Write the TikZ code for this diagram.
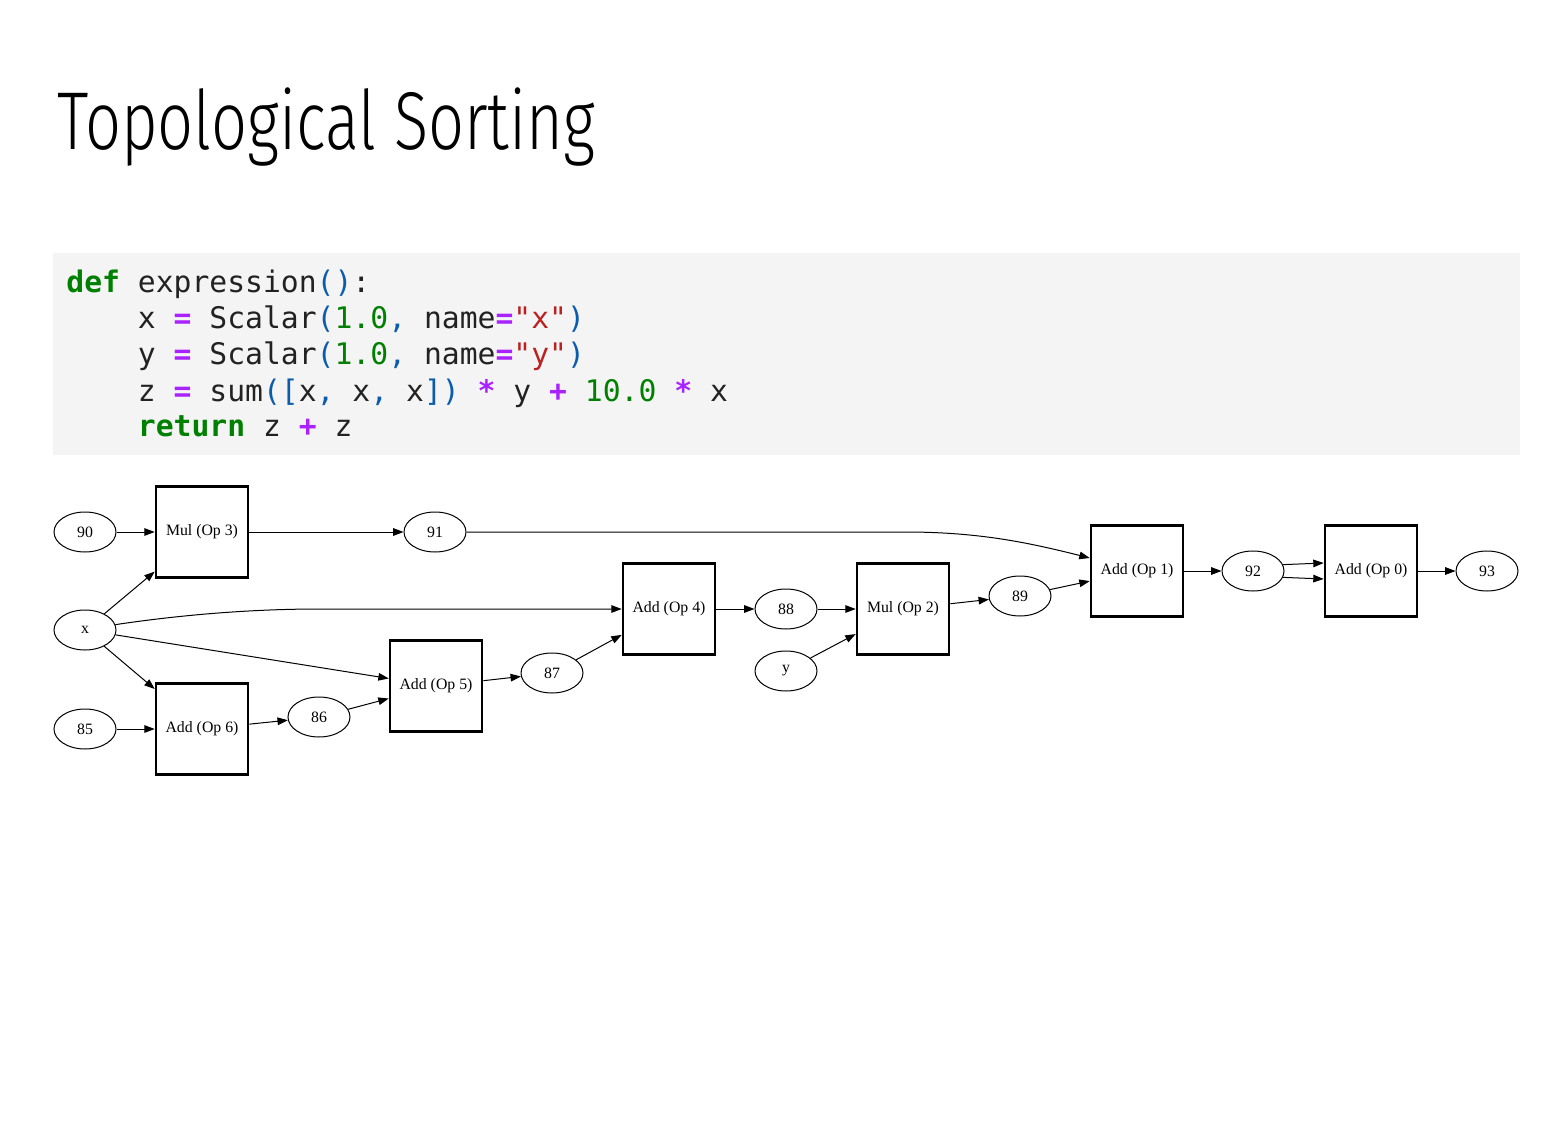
\documentclass[tikz,border=0pt]{standalone}
\usepackage{fontspec}
\usetikzlibrary{shapes.geometric,arrows.meta}
\newfontfamily\titlefont[FakeStretch=0.77]{Fira Sans Light}
\newfontfamily\codefont{DejaVu Sans Mono}
\newfontfamily\graphfont{Liberation Serif}

\definecolor{codebg}{HTML}{F4F4F4}
\definecolor{codetext}{HTML}{222222}
\definecolor{kwgreen}{HTML}{008000}
\definecolor{oppurple}{HTML}{AA22FF}
\definecolor{parblue}{HTML}{0B5CAD}
\definecolor{strred}{HTML}{BA2121}

\newcommand{\codekw}[1]{\textcolor{kwgreen}{\bfseries #1}}
\newcommand{\codeop}[1]{\textcolor{oppurple}{\bfseries #1}}
\newcommand{\codepar}[1]{\textcolor{parblue}{#1}}
\newcommand{\codenum}[1]{\textcolor{kwgreen}{#1}}
\newcommand{\codestr}[1]{\textcolor{strred}{#1}}

\tikzset{
  codeline/.style={anchor=base west, inner sep=0pt, text=codetext,
    font=\codefont\fontsize{14.85pt}{18pt}\selectfont},
  opbox/.style={draw, line width=1.3pt, minimum width=46pt, minimum height=45.5pt,
    inner sep=0pt, font=\graphfont\fontsize{7.9pt}{9pt}\selectfont},
  valnode/.style={draw, ellipse, line width=0.5pt, minimum width=31pt,
    minimum height=20pt, inner sep=0pt, font=\graphfont\fontsize{7.9pt}{9pt}\selectfont},
  flow/.style={line width=0.5pt, -{Triangle[length=5.2pt,width=3.8pt]}},
}

\begin{document}
\begin{tikzpicture}[x=0.5pt, y=-0.5pt]
\useasboundingbox (0,0) rectangle (1561,1138);

% heading
\node[anchor=base west, inner sep=0pt, font=\titlefont\fontsize{41pt}{48pt}\selectfont] (title) at (57,150) {Topological Sorting};

% code listing
\fill[codebg] (53,253) rectangle (1520,455);
\node[codeline] (l1) at (66,293) {\codekw{def} expression\codepar{()}:};
\node[codeline] (l2) at (66,329) {\hphantom{def }x \codeop{=} Scalar\codepar{(}\codenum{1.0}\codepar{,} name\codeop{=}\codestr{"x"}\codepar{)}};
\node[codeline] (l3) at (66,365) {\hphantom{def }y \codeop{=} Scalar\codepar{(}\codenum{1.0}\codepar{,} name\codeop{=}\codestr{"y"}\codepar{)}};
\node[codeline] (l4) at (66,401) {\hphantom{def }z \codeop{=} sum\codepar{([}x\codepar{,} x\codepar{,} x\codepar{])} \codeop{*} y \codeop{+} \codenum{10.0} \codeop{*} x};
\node[codeline] (l5) at (66,437) {\hphantom{def }\codekw{return} z \codeop{+} z};

% value nodes
\node[valnode] (n90) at (85,532) {90};
\node[valnode] (x)   at (85,630) {x};
\node[valnode] (n85) at (85,729) {85};
\node[valnode] (n91) at (435,532) {91};
\node[valnode] (n86) at (319,717) {86};
\node[valnode] (n87) at (552,673) {87};
\node[valnode] (n88) at (786,609) {88};
\node[valnode] (y)   at (786,671) {y};
\node[valnode] (n89) at (1020,596) {89};
\node[valnode] (n92) at (1253,571) {92};
\node[valnode] (n93) at (1487,571) {93};

% operation nodes
\node[opbox] (mul3) at (202,532) {Mul (Op 3)};
\node[opbox] (add6) at (202,729) {Add (Op 6)};
\node[opbox] (add5) at (436,686) {Add (Op 5)};
\node[opbox] (add4) at (669,609) {Add (Op 4)};
\node[opbox] (mul2) at (903,609) {Mul (Op 2)};
\node[opbox] (add1) at (1137,571) {Add (Op 1)};
\node[opbox] (add0) at (1371,571) {Add (Op 0)};

% connectors
\draw[flow] (n90) -- (mul3);
\draw[flow] (x) -- (mul3);
\draw[flow] (x) -- (add6);
\draw[flow] (x) -- (add5);
\draw[flow] (x.10) .. controls (180,615) and (250,609) .. (320,609) -- (add4.west);
\draw[flow] (n85) -- (add6);
\draw[flow] (add6) -- (n86);
\draw[flow] (n86) -- (add5);
\draw[flow] (mul3) -- (n91);
\draw[flow] (n91) -- (905,532) .. controls (980,532) and (1030,543) .. ([yshift=6.5pt]add1.west);
\draw[flow] (add5) -- (n87);
\draw[flow] (n87) -- (add4);
\draw[flow] (add4) -- (n88);
\draw[flow] (n88) -- (mul2);
\draw[flow] (y) -- (mul2);
\draw[flow] (mul2) -- (n89);
\draw[flow] (n89) -- (add1);
\draw[flow] (add1) -- (n92);
\draw[flow] (n92.12) -- ([yshift=4pt]add0.west);
\draw[flow] (n92.-12) -- ([yshift=-4pt]add0.west);
\draw[flow] (add0) -- (n93);
\end{tikzpicture}
\end{document}
